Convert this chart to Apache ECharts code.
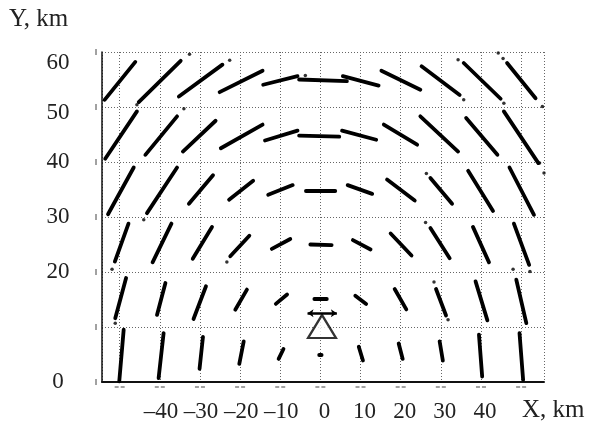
<!DOCTYPE html>
<html>
<head>
<meta charset="utf-8">
<script src="https://cdn.jsdelivr.net/npm/echarts@6/dist/echarts.min.js"></script>
<style>
html,body{margin:0;padding:0;background:#fff;}
#chart{width:595px;height:424px;}
</style>
</head>
<body>
<div id="chart"></div>
<script>
// ---- data (km) ----
const X_MIN = -54.4, X_MAX = 55.7;
const Y_MIN = 0, Y_MAX = 60;
const xTickLabels = [-40, -30, -20, -10, 0, 10, 20, 30, 40];
const yTickLabels = [0, 20, 30, 40, 50, 60];
const xGridTicks = [-50, -40, -30, -20, -10, 0, 10, 20, 30, 40, 50];
const yGridTicks = [0, 10, 20, 30, 40, 50, 60];

// each arc: [xStart, yStart, xEnd, yEnd]
const row55 = [
  [-53.75, 51.3, -46.1, 58.2],
  [-45.25, 50.9, -34.8, 58.4],
  [-35.25, 51.9, -24.4, 57.7],
  [-25.1, 52.7, -14.4, 56.6],
  [-14.25, 54.05, -5.7, 55.6],
  [-5.3, 55.0, 6.6, 54.7],
  [5.6, 55.6, 14.5, 53.9],
  [15.2, 56.6, 24.9, 53.15],
  [25.2, 57.4, 34.7, 52.2],
  [35.7, 58.0, 44.9, 51.5],
  [46.5, 58.0, 53.6, 51.6]
];
const row45 = [
  [-53.6, 40.6, -45.7, 49.2],
  [-43.6, 41.3, -35.7, 48.3],
  [-34.25, 41.9, -26.1, 47.5],
  [-24.8, 42.5, -14.4, 46.8],
  [-13.8, 43.9, -5.7, 45.7],
  [-5.3, 44.8, 4.7, 44.6],
  [5.4, 45.7, 13.9, 44.05],
  [15.8, 46.8, 24.1, 43.15],
  [24.9, 48.3, 34.3, 41.9],
  [36.3, 48.0, 44.1, 41.3],
  [45.7, 49.2, 54.3, 39.8]
];
const row35 = [
  [-52.9, 30.5, -46.5, 39.0],
  [-43.2, 30.7, -35.7, 39.0],
  [-32.75, 32.4, -26.75, 37.6],
  [-22.75, 33.15, -16.75, 36.6],
  [-13.0, 34.05, -6.9, 35.8],
  [-3.6, 34.8, 3.7, 34.8],
  [6.8, 35.8, 12.9, 34.2],
  [16.6, 36.8, 23.5, 33.0],
  [27.4, 37.1, 32.8, 32.4],
  [36.8, 38.4, 43.0, 31.1],
  [47.1, 39.0, 53.2, 30.4]
];
const row25 = [
  [-51.2, 21.9, -47.8, 28.8],
  [-41.8, 21.75, -37.1, 28.8],
  [-31.8, 22.4, -27.0, 28.2],
  [-22.45, 22.85, -17.7, 26.6],
  [-12.1, 24.2, -7.5, 26.0],
  [-2.5, 25.0, 2.8, 24.9],
  [8.1, 25.8, 12.5, 24.1],
  [17.5, 27.0, 22.7, 23.0],
  [27.4, 28.0, 32.2, 22.5],
  [38.0, 28.2, 42.0, 21.75],
  [48.2, 28.8, 52.0, 21.3]
];
const row15 = [
  [-51.1, 11.6, -48.4, 18.9],
  [-40.7, 12.2, -38.6, 18.0],
  [-31.6, 11.45, -28.5, 17.4],
  [-21.2, 13.15, -18.3, 16.8],
  [-11.1, 14.2, -8.3, 15.9],
  [-1.5, 15.1, 1.6, 15.1],
  [8.7, 15.7, 11.4, 14.2],
  [18.5, 16.9, 21.4, 13.2],
  [28.8, 16.9, 31.3, 12.1],
  [38.65, 18.3, 41.6, 11.2],
  [48.8, 18.6, 51.3, 10.7]
];
const row5 = [
  [-50.1, 0.1, -49.0, 9.5],
  [-40.3, 0.7, -39.05, 8.9],
  [-30.1, 2.4, -29.25, 8.2],
  [-20.2, 3.3, -19.1, 7.4],
  [-10.4, 4.2, -9.2, 6.0],
  [-0.3, 5.0, 0.3, 5.0],
  [9.56, 6.4, 10.6, 3.9],
  [19.5, 7.0, 20.5, 4.2],
  [29.7, 7.4, 30.5, 3.9],
  [39.5, 8.6, 40.3, 1.0],
  [49.6, 8.9, 50.5, 0.4]
];
// isolated stray points
const strayDots = [
  [-22.6, 58.5], [-32.6, 59.6], [-34.0, 49.7], [-45.7, 50.4], [-3.75, 55.75],
  [34.3, 58.6], [35.7, 51.3], [44.3, 59.8], [45.5, 58.8], [45.7, 50.7],
  [55.3, 50.1], [54.6, 39.8], [55.7, 38.0], [26.4, 37.9], [26.2, 29.0],
  [48.0, 20.5], [52.2, 20.1], [28.3, 18.2], [31.8, 11.3], [-44.0, 29.5],
  [-51.9, 20.5], [-51.1, 10.7], [-23.3, 21.8]
];
// radar/antenna symbol
const antennaPos = [[0.4, 10.1]];
const antennaBar = [[-3.2, 12.5, 4.1, 12.5]];

const SERIF = '"Liberation Serif", "DejaVu Serif", serif';
const allArcs = [].concat(row55, row45, row35, row25, row15, row5);

const chart = echarts.init(document.getElementById('chart'), null, {renderer: 'canvas'});
chart.setOption({
  animation: false,
  backgroundColor: '#ffffff',
  grid: {left: 102, top: 52, width: 442, height: 330, containLabel: false},
  xAxis: {
    type: 'value', min: X_MIN, max: X_MAX,
    splitNumber: 11, minInterval: 10, maxInterval: 10,
    axisLine: {show: true, onZero: false, lineStyle: {color: '#111', width: 2}},
    axisTick: {show: false},
    splitLine: {show: true, lineStyle: {color: '#666', width: 1, type: [1, 2]}},
    axisLabel: {
      show: true, showMinLabel: false, showMaxLabel: false,
      fontFamily: SERIF, fontSize: 23, color: '#222',
      margin: 18, padding: [0, 0, 0, 8],
      formatter: function (v) {
        const r = Math.round(v * 10) / 10;
        if (xTickLabels.indexOf(r) < 0) return '';
        return r < 0 ? '\u2013' + Math.abs(r) + ' ' : String(r);
      }
    }
  },
  yAxis: {
    type: 'value', min: Y_MIN, max: Y_MAX, interval: 10,
    axisLine: {show: true, onZero: false, lineStyle: {color: '#111', width: 1.5}},
    axisTick: {show: false},
    splitLine: {show: true, lineStyle: {color: '#666', width: 1, type: [1, 2]}},
    axisLabel: {
      show: true, fontFamily: SERIF, fontSize: 23, color: '#222',
      margin: 44, align: 'center',
      formatter: function (v) {
        if (yTickLabels.indexOf(v) < 0) return '';
        if (v === 60) return '{a|' + v + '}';
        if (v === 50) return '{b|' + v + '}';
        return String(v);
      },
      rich: {
        a: {fontFamily: SERIF, fontSize: 23, color: '#222', padding: [22, 0, 0, 0]},
        b: {fontFamily: SERIF, fontSize: 23, color: '#222', padding: [11, 0, 0, 0]}
      }
    }
  },
  graphic: [
    {type: 'text', left: 9, top: 7, style: {text: 'Y, km', font: '25px ' + SERIF, fill: '#222'}},
    {type: 'text', left: 522, top: 398, style: {text: 'X, km', font: '25px ' + SERIF, fill: '#222'}}
  ],
  series: [
    {
      type: 'lines', coordinateSystem: 'cartesian2d', polyline: false, silent: true,
      lineStyle: {color: '#000', width: 3.8, opacity: 1, cap: 'round'},
      data: allArcs.map(a => ({coords: [[a[0], a[1]], [a[2], a[3]]]})),
      z: 5
    },
    {
      type: 'scatter', symbol: 'circle', symbolSize: 3.5, silent: true,
      itemStyle: {color: '#000'}, data: strayDots, z: 5
    },
    {
      type: 'scatter', symbol: 'triangle', symbolSize: [28, 23], silent: true,
      itemStyle: {color: '#fff', borderColor: '#000', borderWidth: 2.2},
      data: antennaPos, z: 6
    },
    {
      type: 'lines', coordinateSystem: 'cartesian2d', silent: true,
      symbol: ['arrow', 'arrow'], symbolSize: 6,
      lineStyle: {color: '#000', width: 2.5, opacity: 1},
      data: antennaBar.map(a => ({coords: [[a[0], a[1]], [a[2], a[3]]]})),
      z: 6
    },
    {
      // small marks left of the Y axis
      type: 'custom', coordinateSystem: 'cartesian2d', clip: false, silent: true,
      data: yGridTicks.map(v => [X_MIN, v]),
      renderItem: function (params, api) {
        const p = api.coord([api.value(0), api.value(1)]);
        return {type: 'line', shape: {x1: p[0] - 6, y1: p[1] - 3, x2: p[0] - 6, y2: p[1] + 3},
                style: {stroke: '#444', lineWidth: 1}};
      }
    },
    {
      // small marks below the X axis
      type: 'custom', coordinateSystem: 'cartesian2d', clip: false, silent: true,
      data: xGridTicks.map(v => [v, Y_MIN]),
      renderItem: function (params, api) {
        const p = api.coord([api.value(0), api.value(1)]);
        return {type: 'line', shape: {x1: p[0] - 5, y1: p[1] + 5, x2: p[0] + 5, y2: p[1] + 5},
                style: {stroke: '#444', lineWidth: 1, lineDash: [4, 2]}};
      }
    }
  ]
});
</script>
</body>
</html>
